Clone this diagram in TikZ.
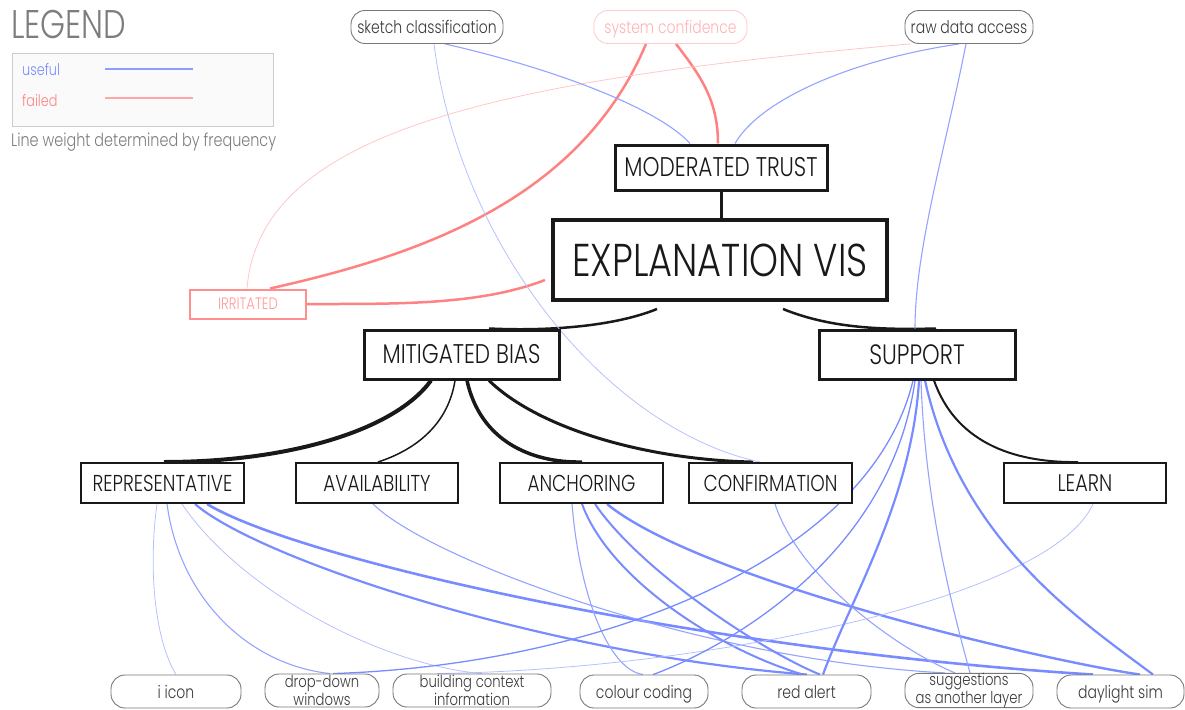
\documentclass[tikz,border=0pt]{standalone}
\usepackage{fontspec}
\setmainfont{Poppins Light}[FakeStretch=0.8]
\usetikzlibrary{calc,backgrounds}
\definecolor{useful}{RGB}{120,140,255}
\definecolor{failed}{RGB}{255,130,130}
\definecolor{ink}{RGB}{25,25,25}
\definecolor{legendgray}{RGB}{125,125,125}
\definecolor{pillgray}{RGB}{120,120,120}
\newcommand\fsz[1]{\fontsize{#1}{#1}\selectfont}

\begin{document}
\begin{tikzpicture}[x=1pt,y=-1pt,
  cat/.style={draw=ink, fill=white, line width=2pt, inner sep=0pt, text=ink, font=\fsz{23}},
  hub/.style={cat, line width=3pt, font=\fsz{27}},
  pill/.style={draw=pillgray, fill=white, line width=0.9pt, rounded corners=14pt,
    inner sep=0pt, minimum height=33pt, text=ink!85, font=\fsz{17.5},
    text height=15pt, text depth=2pt},
  pill2/.style={draw=pillgray, fill=white, line width=0.9pt, rounded corners=14pt,
    inner sep=0pt, minimum height=33pt, text=ink!85,
    font=\fontsize{16.5}{14.5}\selectfont, align=center},
  bk/.style={draw=ink, line width=#1},
  u/.style={draw=useful, line width=#1},
  uf/.style={draw=useful!55, line width=0.8pt},
  ut/.style={draw=useful!80, line width=1.1pt},
  fl/.style={draw=failed, line width=#1},
]
\useasboundingbox (0,0) rectangle (1185,709);

% ---------- legend ----------
\node[anchor=base west, text=legendgray, font=\fsz{40}, inner sep=0pt] (lg) at (11,38) {LEGEND};
\node[draw=black!20, fill=black!2, line width=1.2pt, anchor=north west,
      minimum width=261pt, minimum height=73pt] (lbox) at (12,53) {};
\node[anchor=base west, text=useful, font=\fsz{16}, inner sep=0pt] (lu) at (22,75) {useful};
\node[anchor=base west, text=failed, font=\fsz{16}, inner sep=0pt] (lf) at (22,106) {failed};
\draw[draw=useful!85, line width=1.4pt] (105,69) -- (193,69);
\draw[draw=failed!70, line width=1.4pt] (105,98) -- (193,98);
\node[anchor=base west, text=legendgray, font=\fsz{18}, inner sep=0pt] (lw) at (11,146)
  {Line weight determined by frequency};

% ---------- top level sources ----------
\node[pill, minimum width=152pt] (sk) at (427,27) {sketch classification};
\node[pill, minimum width=153pt, draw=failed!40, text=failed!60] (sc) at (670.5,27) {system confidence};
\node[pill, minimum width=128pt] (rd) at (969,27) {raw data access};

% ---------- central hierarchy ----------
\node[hub, minimum width=212pt, minimum height=45pt, font=\fsz{27}] (mt) at (721,167.5) {MODERATED TRUST};
\node[hub, line width=4pt, minimum width=334pt, minimum height=80pt, font=\fsz{46}] (ev) at (720,260) {EXPLANATION VIS};
\node[draw=failed!90, line width=2pt, fill=white, text=failed!80, inner sep=0pt,
      minimum width=116pt, minimum height=29pt, font=\fsz{16.5}] (irr) at (248,304) {IRRITATED};
\node[hub, minimum width=195pt, minimum height=49pt] (mb) at (461.5,354.5) {MITIGATED BIAS};
\node[hub, minimum width=196pt, minimum height=49pt, font=\fsz{28}] (sup) at (917,354.5) {SUPPORT};

\node[cat, minimum width=163pt, minimum height=40pt] (rep) at (162.5,483) {REPRESENTATIVE};
\node[cat, minimum width=162pt, minimum height=40pt] (ava) at (377,483) {AVAILABILITY};
\node[cat, minimum width=163pt, minimum height=40pt] (anc) at (581.5,483) {ANCHORING};
\node[cat, minimum width=163pt, minimum height=40pt] (con) at (770.5,483) {CONFIRMATION};
\node[cat, minimum width=162pt, minimum height=40pt, font=\fsz{24}] (lea) at (1085,483) {LEARN};

% ---------- features ----------
\node[pill, minimum width=130pt] (ii) at (176,691.5) {i icon};
\node[pill2, minimum width=114pt] (dd) at (322,690.5) {drop-down\\windows};
\node[pill2, minimum width=158pt] (bc) at (472,690.5) {building context\\information};
\node[pill, minimum width=128pt] (cc) at (644,691.5) {colour coding};
\node[pill, minimum width=129pt] (ra) at (806.5,691.5) {red alert};
\node[pill2, minimum width=128pt] (sg) at (969,690.5) {suggestions\\as another layer};
\node[pill, minimum width=127pt] (ds) at (1120.5,691.5) {daylight sim};

\begin{scope}[on background layer]
% hierarchy links
\draw[bk=3pt] (mt.south) -- (mt.south |- ev.north);
\draw[bk=2.5pt] ($(ev.south)+(-63,7)$) .. controls (610,328) and (540,331) .. ($(mb.north)+(27.5,0)$);
\draw[bk=2.5pt] ($(ev.south)+(63,7)$) .. controls (830,328) and (880,330) .. ($(sup.north)+(19,0)$);
\draw[bk=4pt] ($(mb.south)+(-30.5,0)$) .. controls (395,430) and (290,462) .. ($(rep.north)+(1.5,0)$);
\draw[bk=1.5pt] ($(mb.south)+(-6.5,0)$) .. controls (448,425) and (415,450) .. ($(ava.north)+(1,0)$);
\draw[bk=3.5pt] ($(mb.south)+(5.5,0)$) .. controls (480,440) and (530,463) .. ($(anc.north)+(0.5,0)$);
\draw[bk=3pt] ($(mb.south)+(27.5,0)$) .. controls (540,430) and (650,460) .. ($(con.north)+(-17.5,0)$);
\draw[bk=2pt] ($(sup.south)+(17,0)$) .. controls (955,440) and (1010,463) .. ($(lea.north)+(-7,0)$);

% failed links
\draw[fl=2.5pt] ($(sc.south)+(5.5,0)$) .. controls (700,75) and (718,100) .. ($(mt.north)+(-3,0)$);
\draw[fl=2.5pt] ($(sc.south)+(-24.5,0)$) .. controls (580,200) and (420,255) .. ($(irr.north)+(22,0)$);
\draw[draw=failed!45, line width=0.8pt] ($(rd.south)+(-59,0)$) .. controls (500,80) and (260,130) .. ($(irr.north)+(-1,0)$);
\draw[fl=2.5pt] ($(ev.west)+(-6,20)$) .. controls (480,305) and (400,304) .. (irr.east);

% useful links, upper part
\draw[ut] ($(sk.south)+(18,0)$) .. controls (560,70) and (660,110) .. ($(mt.north)+(-31,0)$);
\draw[uf] ($(sk.south)+(7,0)$) .. controls (460,250) and (610,430) .. ($(con.north)+(-10.5,0)$);
\draw[ut] ($(rd.south)+(-10,0)$) .. controls (850,60) and (760,100) .. ($(mt.north)+(14,0)$);
\draw[ut] ($(rd.south)+(-3,0)$) .. controls (945,150) and (915,250) .. ($(sup.north)+(-2,0)$);

% useful links, biases to features
\draw[uf] ($(rep.south)+(-5.5,0)$) .. controls (148,570) and (155,640) .. (ii.north);
\draw[ut] ($(rep.south)+(4.5,0)$) .. controls (180,600) and (250,665) .. ($(dd.north)+(8,0)$);
\draw[uf] ($(rep.south)+(19.5,0)$) .. controls (240,590) and (380,665) .. ($(bc.north)+(10,0)$);
\draw[u=2.2pt] ($(rep.south)+(32.5,0)$) .. controls (260,560) and (550,655) .. ($(ra.north)+(0.5,0)$);
\draw[u=2.6pt] ($(rep.south)+(44.5,0)$) .. controls (300,560) and (700,650) .. ($(ds.north)+(-27.5,0)$);
\draw[ut] ($(ava.south)+(-4,0)$) .. controls (430,560) and (700,660) .. ($(sg.north)+(-24,0)$);
\draw[ut] ($(anc.south)+(-9.5,0)$) .. controls (580,600) and (610,670) .. ($(cc.north)+(-1,0)$);
\draw[u=2pt] ($(anc.south)+(0.5,0)$) .. controls (610,580) and (720,650) .. ($(ra.north)+(-3.5,0)$);
\draw[u=2pt] ($(anc.south)+(13.5,0)$) .. controls (640,570) and (760,650) .. ($(ra.north)+(13.5,0)$);
\draw[u=2.4pt] ($(anc.south)+(25.5,0)$) .. controls (700,580) and (1040,660) .. ($(ds.north)+(19.5,0)$);
\draw[ut] ($(con.south)+(4.5,0)$) .. controls (800,580) and (900,650) .. ($(sg.north)+(-14,0)$);
\draw[uf] ($(lea.south)+(8,0)$) .. controls (1050,600) and (700,670) .. ($(bc.north)+(-35,0)$);

% useful links, support to features
\draw[u=1.3pt] ($(sup.south)+(-4,0)$) .. controls (870,560) and (600,665) .. ($(dd.north)+(11,0)$);
\draw[u=1.3pt] ($(sup.south)+(-2,0)$) .. controls (890,560) and (720,650) .. ($(cc.north)+(9,0)$);
\draw[u=2.2pt] ($(sup.south)+(2,0)$) .. controls (912,500) and (850,600) .. ($(ra.north)+(16.5,0)$);
\draw[ut] ($(sup.south)+(4,0)$) .. controls (925,500) and (950,600) .. ($(sg.north)+(1,0)$);
\draw[u=2.2pt] ($(sup.south)+(8,0)$) .. controls (960,540) and (1080,620) .. ($(ds.north)+(32.5,0)$);
\end{scope}
\end{tikzpicture}
\end{document}
